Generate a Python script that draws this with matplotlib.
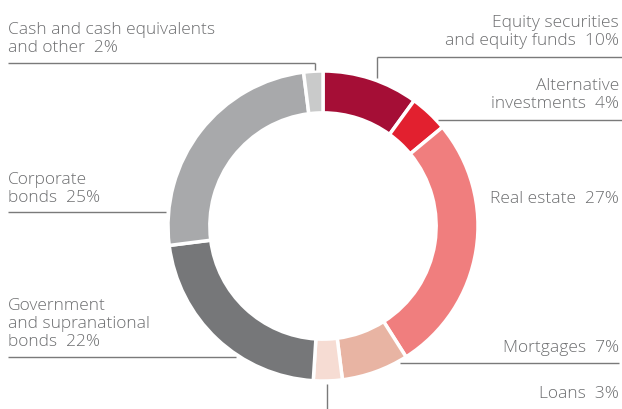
import matplotlib.pyplot as plt

# Daten (Anteile in %), im Uhrzeigersinn ab 12 Uhr
labels = ["Equity securities\nand equity funds  10%",
          "Alternative\ninvestments  4%",
          "Real estate  27%",
          "Mortgages  7%",
          "Loans  3%",
          "Government\nand supranational\nbonds  22%",
          "Corporate\nbonds  25%",
          "Cash and cash equivalents\nand other  2%"]
shares = [10, 4, 27, 7, 3, 22, 25, 2]
colors = ["#a50e36", "#e2202f", "#f07e7e", "#e8b4a3", "#f6dcd3",
          "#767779", "#a8a9ab", "#c9caca"]

W, H = 622, 409
fig = plt.figure(figsize=(W / 100, H / 100), dpi=100)
ax = fig.add_axes([0, 0, 1, 1])

cx, cy, R = 323, H - 226, 155
ax.pie(shares, colors=colors, startangle=90, counterclock=False,
       center=(cx, cy), radius=R,
       wedgeprops=dict(width=R * 0.27, edgecolor="white", linewidth=2.5))

ax.set_xlim(0, W)
ax.set_ylim(0, H)
ax.set_aspect("equal")
ax.axis("off")

tc = "#6d6e70"
lc = "#7a7a7a"
fs = 12.5
font = "Open Sans"


def y(p):
    # Pixel von oben -> Datenkoordinate
    return H - p


def line(xs, ys):
    ax.plot(xs, [y(v) for v in ys], color=lc, lw=1, solid_capstyle="butt")


def txt(x, ybase, s, ha):
    ax.text(x, y(ybase), s, ha=ha, va="baseline", color=tc, fontsize=fs,
            family=font, weight="light", linespacing=1.18)


# Beschriftungen rechts
txt(619, 45, labels[0], "right")
line([377, W], [57, 57])
line([377, 377], [57, 78])

txt(619, 108, labels[1], "right")
line([438, W], [120, 120])

txt(619, 203, labels[2], "right")

txt(619, 352, labels[3], "right")
line([400, 619], [363, 363])

txt(619, 398, labels[4], "right")
line([327, 327], [384, H])

# Beschriftungen links
txt(8, 346, labels[5], "left")
line([8, 236], [357, 357])

txt(8, 202, labels[6], "left")
line([8, 166], [212, 212])

txt(8, 52, labels[7], "left")
line([8, 315], [63, 63])
line([315, 315], [63, 70])

fig.savefig("out.png", dpi=100)
